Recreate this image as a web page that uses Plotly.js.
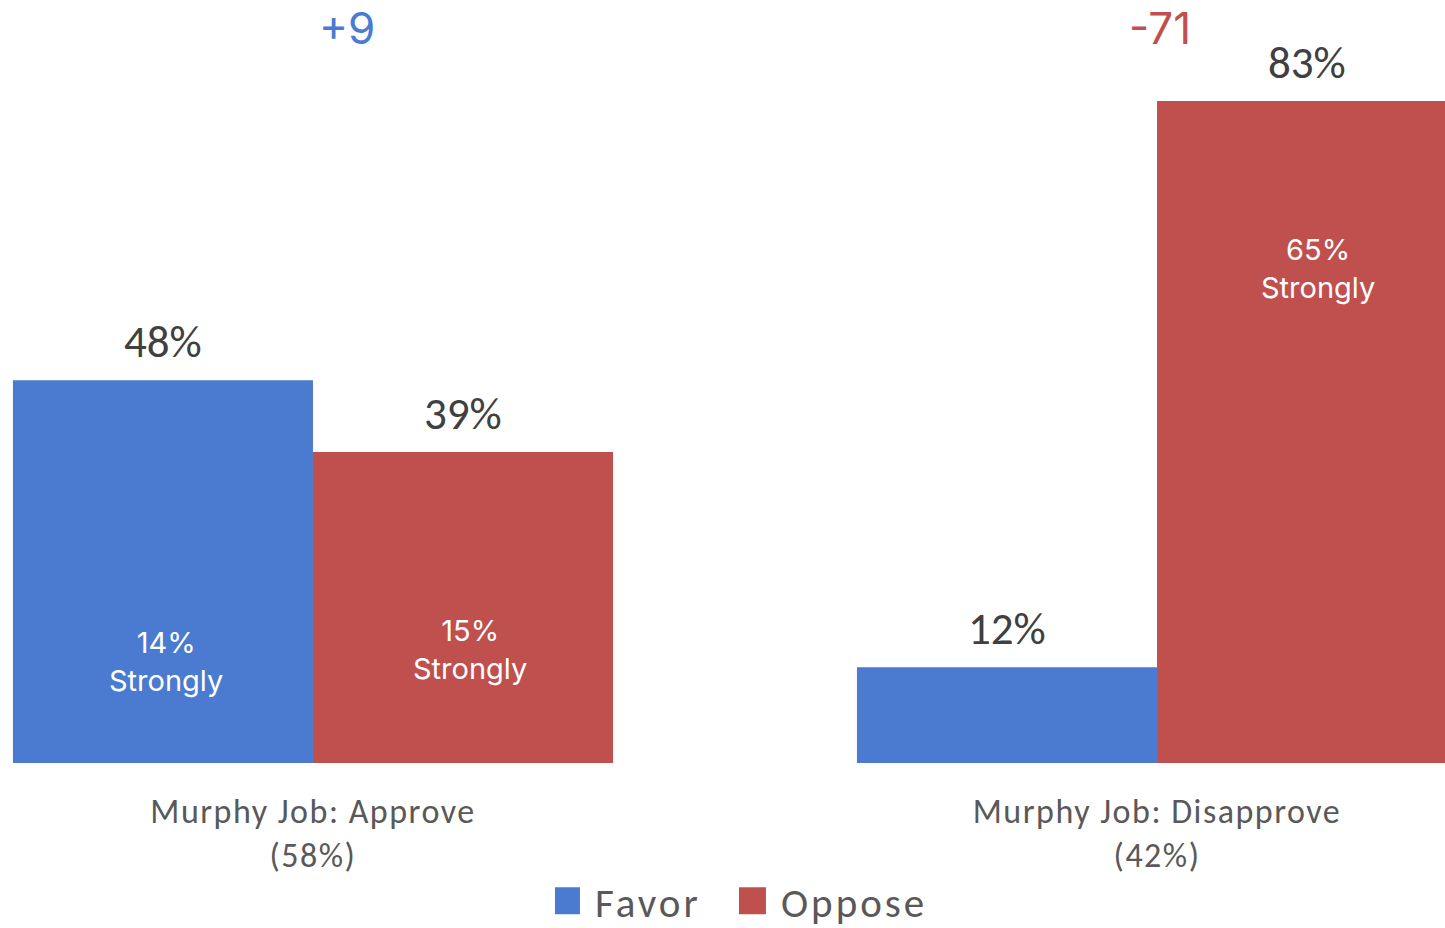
<!DOCTYPE html>
<html>
<head>
<meta charset="utf-8">
<script src="https://cdn.plot.ly/plotly-3.0.1.min.js"></script>
<style>
html, body { margin: 0; padding: 0; background: #fff; }
#chart { width: 1445px; height: 928px; }
.xtick text { letter-spacing: 1.5px; }
.legend text.legendtext { letter-spacing: 3px; }
</style>
</head>
<body>
<div id="chart"></div>
<script>
// ---- data ----
var categories = ["Murphy Job: Approve<br>(58%)", "Murphy Job: Disapprove<br>(42%)"];
var favorValues = [48, 12];
var opposeValues = [39, 83];
var favorStrongly = [14, null];
var opposeStrongly = [15, 65];
var netLabels = ["+9", "-71"];

var blue = "#4A7BD1";
var red = "#C0504D";
var calibri = "Carlito, Lato, sans-serif";
var geo = "Inter, 'Open Sans', sans-serif";

function pct(v) { return v + "%"; }

var traces = [
  {
    type: "bar", name: "Favor", x: categories, y: favorValues,
    marker: { color: blue }, cliponaxis: false, hoverinfo: "skip"
  },
  {
    type: "bar", name: "Oppose", x: categories, y: opposeValues,
    marker: { color: red }, cliponaxis: false, hoverinfo: "skip"
  }
];

var annotations = [];
var offs = 0.1777;
// value labels above bars
favorValues.forEach(function (v, i) {
  annotations.push({ x: i - offs, y: v, xref: "x", yref: "y", yanchor: "bottom", yshift: 9,
    text: pct(v), showarrow: false,
    font: { family: calibri, size: 45, color: "#404040" } });
});
opposeValues.forEach(function (v, i) {
  annotations.push({ x: i + offs, y: v, xref: "x", yref: "y", yanchor: "bottom", yshift: 9,
    text: pct(v), showarrow: false,
    font: { family: calibri, size: 45, color: "#404040" } });
});
// "Strongly" labels inside bars
var strongY = { f: [12.7, null], o: [14.2, 62.0] };
var strongDx = { f: [0.003, 0], o: [0.008, 0.013] };
favorStrongly.forEach(function (v, i) {
  if (v === null) return;
  annotations.push({ x: i - offs + strongDx.f[i], y: strongY.f[i], xref: "x", yref: "y",
    text: pct(v) + "<br>Strongly", showarrow: false,
    font: { family: geo, size: 29, color: "#ffffff" } });
});
opposeStrongly.forEach(function (v, i) {
  if (v === null) return;
  annotations.push({ x: i + offs + strongDx.o[i], y: strongY.o[i], xref: "x", yref: "y",
    text: pct(v) + "<br>Strongly", showarrow: false,
    font: { family: geo, size: 29, color: "#ffffff" } });
});
// net difference labels
var netX = [0.04, 1.004];
var netColors = [blue, red];
netLabels.forEach(function (t, i) {
  annotations.push({ x: netX[i], y: 1, xref: "x", yref: "paper", yanchor: "top", yshift: 1,
    text: t, showarrow: false,
    font: { family: geo, size: 44, color: netColors[i] } });
});

var layout = {
  width: 1445, height: 928,
  margin: { l: 12, r: 0, t: 0, b: 165, autoexpand: false },
  paper_bgcolor: "#ffffff", plot_bgcolor: "#ffffff",
  barmode: "group", bargap: 0.289, bargroupgap: 0,
  xaxis: {
    type: "category", range: [-0.3566, 1.3412], automargin: false,
    showgrid: false, zeroline: false, showline: false, ticks: "",
    ticklabelstandoff: 25,
    tickfont: { family: calibri, size: 34, color: "#595959" }
  },
  yaxis: {
    range: [0, 95.66], visible: false, showgrid: false, zeroline: false
  },
  showlegend: true,
  legend: {
    orientation: "h", x: 0.5087, xanchor: "center", y: -0.181, yanchor: "middle",
    entrywidth: 141, entrywidthmode: "pixels",
    font: { family: calibri, size: 41, color: "#595959" },
    itemclick: false, itemdoubleclick: false
  },
  annotations: annotations,
  font: { family: calibri }
};

function enlargeLegendSymbols() {
  document.querySelectorAll("#chart .legend .legendpoints path").forEach(function (p) {
    p.setAttribute("d", "M5,13.5H-22V-13.5H5Z");
  });
}

Plotly.newPlot("chart", traces, layout, { staticPlot: true, displayModeBar: false })
  .then(enlargeLegendSymbols);
</script>
</body>
</html>
